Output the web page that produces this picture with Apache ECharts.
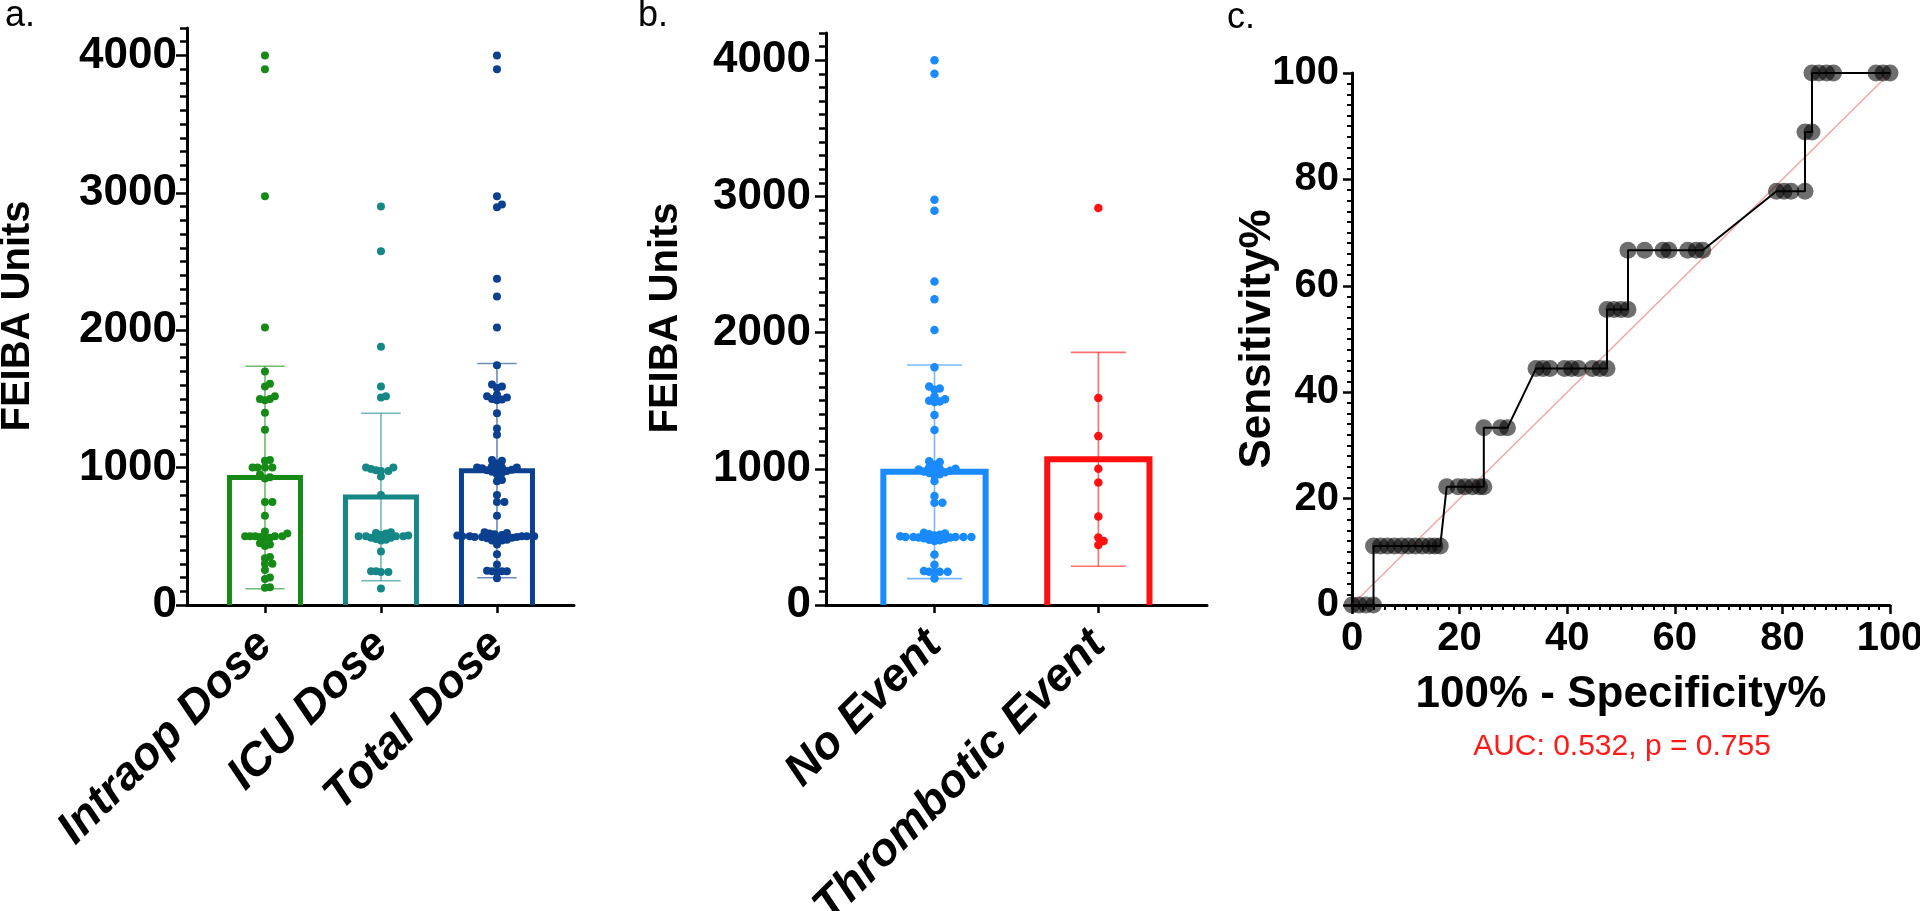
<!DOCTYPE html>
<html><head><meta charset="utf-8">
<script src="https://cdn.jsdelivr.net/npm/echarts@6/dist/echarts.min.js"></script>
<style>html,body{margin:0;padding:0;background:#fff}#c{width:1920px;height:911px}</style>
</head><body><div id="c"></div>
<script>
// ---------------- data ----------------
const doseCategories = ['Intraop Dose', 'ICU Dose', 'Total Dose'];
const eventCategories = ['No Event', 'Thrombotic Event'];

const intraopDose = [4000, 3900, 2975, 2020, 1700, 1610, 1590, 1520, 1500, 1500, 1490, 1400, 1275,
  1055, 1050, 1000, 1000, 1000, 1000, 950, 930, 920, 750, 750, 650, 535, 520, 500, 500, 500, 500, 500,
  495, 490, 485, 450, 440, 430, 350, 340, 300, 300, 255, 200, 190, 130, 125];
const icuDose = [2900, 2575, 1880, 1590, 1520, 1510, 1000, 1000, 990, 980, 975, 975, 935, 800,
  530, 525, 520, 510, 505, 500, 500, 500, 500, 490, 490, 480, 475, 470, 390, 245, 245, 240, 240, 120];
const totalDose = [4000, 3900, 2975, 2915, 2895, 2375, 2245, 2020, 1745, 1605, 1590, 1580, 1530,
  1520, 1510, 1500, 1495, 1490, 1395, 1285, 1240, 1055, 1050, 1030, 1010, 1000, 1000, 1000, 995, 990,
  985, 980, 975, 970, 960, 950, 910, 900, 800, 750, 750, 650, 530, 525, 520, 515, 510, 505, 500, 500,
  500, 500, 500, 495, 495, 495, 490, 485, 480, 475, 470, 470, 440, 370, 295, 250, 245, 245, 245, 240, 195];
const noEvent = [4000, 3900, 2975, 2895, 2375, 2245, 2020, 1745, 1605, 1590, 1580, 1530, 1510, 1500,
  1495, 1490, 1395, 1285, 1055, 1050, 1030, 1010, 1000, 1000, 995, 990, 985, 980, 975, 970, 960, 950,
  910, 800, 750, 750, 530, 525, 520, 515, 510, 505, 500, 500, 500, 500, 500, 495, 495, 490, 485, 480,
  475, 470, 370, 295, 250, 245, 245, 245, 240, 195];
const thromboticEvent = [2915, 1520, 1240, 1000, 900, 650, 495, 470, 440];

const doseMeans = [928, 786, 978];
const doseSDs = [810, 610, 780];
const eventMeans = [978, 1070];
const eventSDs = [784, 785];

const feibaTicks = [0, 1000, 2000, 3000, 4000];

// ROC curve: 100% - Specificity% (x) and Sensitivity% (y)
const rocSpecX = [0, 1.3, 2.6, 4.0,
  4.0, 5.3, 6.6, 7.9, 9.2, 10.5, 11.8, 13.1, 14.4, 15.4, 16.4,
  17.6, 19.7, 21.0, 22.4, 23.7, 24.5,
  24.5, 27.6, 28.9,
  34.2, 35.5, 36.8, 39.5, 40.8, 42.1, 44.7, 46.1, 47.4,
  47.4, 48.7, 50.0, 51.3,
  51.3, 54.4, 57.8, 58.9, 62.4, 64.0, 65.2,
  78.9, 80.3, 81.6, 84.2,
  84.2, 85.5,
  85.5, 86.8, 88.2, 89.5, 97.4, 98.7, 100];
const rocSensY = [0, 0, 0, 0,
  11.11, 11.11, 11.11, 11.11, 11.11, 11.11, 11.11, 11.11, 11.11, 11.11, 11.11,
  22.22, 22.22, 22.22, 22.22, 22.22, 22.22,
  33.33, 33.33, 33.33,
  44.44, 44.44, 44.44, 44.44, 44.44, 44.44, 44.44, 44.44, 44.44,
  55.56, 55.56, 55.56, 55.56,
  66.67, 66.67, 66.67, 66.67, 66.67, 66.67, 66.67,
  77.78, 77.78, 77.78, 77.78,
  88.89, 88.89,
  100, 100, 100, 100, 100, 100, 100];
const chanceLine = [0, 100];
const aucText = 'AUC: 0.532, p = 0.755';

// ---------------- styling ----------------
const FONT = '"Liberation Sans", Arial, sans-serif';
const doseColors = ['#168a16', '#168787', '#0b3f8f'];
const eventColors = ['#1a8aff', '#ff1010'];

const chart = echarts.init(document.getElementById('c'), null, {renderer: 'canvas', width: 1920, height: 911});

function yMain(gi, margin) {
  return {
    type: 'value', gridIndex: gi, position: 'left', min: 0, max: 4200, interval: 100,
    axisLine: {show: true, onZero: false, lineStyle: {color: '#000', width: 3}},
    axisTick: {show: true, length: 7, lineStyle: {color: '#000', width: 2.5}},
    axisLabel: {show: true, customValues: feibaTicks, margin: margin, color: '#000',
      fontFamily: FONT, fontWeight: 'bold', fontSize: 44, formatter: v => String(v)},
    splitLine: {show: false}
  };
}
function yMajor(gi) {
  return {
    type: 'value', gridIndex: gi, position: 'left', offset: 0, min: 0, max: 4200, interval: 1000,
    axisLine: {show: false, onZero: false},
    axisTick: {show: true, customValues: feibaTicks, length: 11, lineStyle: {color: '#000', width: 2.5}},
    axisLabel: {show: false}, splitLine: {show: false}
  };
}
function xCat(gi, min, max, cats) {
  const idx = cats.map((c, i) => i);
  return {
    type: 'value', gridIndex: gi, min: min, max: max,
    axisLine: {show: true, onZero: false, lineStyle: {color: '#000', width: 3}},
    axisTick: {show: true, customValues: idx, length: 8, lineStyle: {color: '#000', width: 2.5}},
    axisLabel: {show: true, customValues: idx, rotate: 45, margin: 33, color: '#000',
      fontFamily: FONT, fontWeight: 'bold', fontStyle: 'italic', fontSize: 46,
      formatter: v => cats[Math.round(v)]},
    splitLine: {show: false}
  };
}
function rocAxis(gi, isX) {
  return {
    type: 'value', gridIndex: gi, min: 0, max: 100, interval: 20,
    axisLine: {show: true, onZero: false, lineStyle: {color: '#000', width: 3}},
    axisTick: {show: true, length: 9, lineStyle: {color: '#000', width: 2.5}},
    minorTick: {show: true, splitNumber: 10, length: 5, lineStyle: {color: '#000', width: 2}},
    axisLabel: {show: true, margin: isX ? 14 : 13, color: '#000',
      fontFamily: FONT, fontWeight: 'bold', fontSize: 40},
    splitLine: {show: false}, minorSplitLine: {show: false}
  };
}

function barSeries(xi, yi, means, colors, halfW, lw) {
  return {
    type: 'custom', xAxisIndex: xi, yAxisIndex: yi, z: 2, clip: false,
    data: means.map((m, i) => [i, m]),
    renderItem: function (params, api) {
      const i = api.value(0), m = api.value(1);
      const a = api.coord([i - halfW, 0]), b = api.coord([i - halfW, m]);
      const c = api.coord([i + halfW, m]), d = api.coord([i + halfW, 0]);
      return {type: 'polyline', shape: {points: [a, b, c, d]},
        style: {fill: null, stroke: colors[params.dataIndex], lineWidth: lw, lineJoin: 'miter'}};
    }
  };
}
function errSeries(xi, yi, means, sds, colors, capW) {
  return {
    type: 'custom', xAxisIndex: xi, yAxisIndex: yi, z: 3, clip: false,
    data: means.map((m, i) => [i, m - sds[i], m + sds[i]]),
    renderItem: function (params, api) {
      const i = api.value(0), lo = api.value(1), hi = api.value(2);
      const top = api.coord([i, hi]), bot = api.coord([i, lo]);
      const tl = api.coord([i - capW, hi]), tr = api.coord([i + capW, hi]);
      const bl = api.coord([i - capW, lo]), br = api.coord([i + capW, lo]);
      const st = {stroke: colors[params.dataIndex], lineWidth: 1.6, opacity: 0.6};
      return {type: 'group', children: [
        {type: 'line', shape: {x1: top[0], y1: top[1], x2: bot[0], y2: bot[1]}, style: st},
        {type: 'line', shape: {x1: tl[0], y1: tl[1], x2: tr[0], y2: tr[1]}, style: st},
        {type: 'line', shape: {x1: bl[0], y1: bl[1], x2: br[0], y2: br[1]}, style: st}
      ]};
    }
  };
}

function txt(x, y, text, font, fill, rot) {
  return {type: 'text', x: x, y: y, rotation: rot || 0,
    style: {text: text, font: font, fill: fill, textAlign: 'center', align: 'center',
      textVerticalAlign: 'middle', verticalAlign: 'middle'}};
}
function lbl(x, y, text) {
  return {type: 'text', x: x, y: y,
    style: {text: text, font: '36px ' + FONT, fill: '#000', textAlign: 'left', align: 'left',
      textVerticalAlign: 'middle', verticalAlign: 'middle'}};
}
const graphicTexts = [
  lbl(5, 16, 'a.'), lbl(638, 16, 'b.'), lbl(1227, 18, 'c.'),
  txt(18, 316, 'FEIBA Units', 'bold 40px ' + FONT, '#000', Math.PI / 2),
  txt(666, 318, 'FEIBA Units', 'bold 40px ' + FONT, '#000', Math.PI / 2),
  txt(1258, 339, 'Sensitivity%', 'bold 44px ' + FONT, '#000', Math.PI / 2),
  txt(1621, 695, '100% - Specificity%', 'bold 44px ' + FONT, '#000'),
  txt(1622, 747, aucText, '30px ' + FONT, '#ff1a1a')
];

const baseOption = {
  animation: false,
  backgroundColor: '#fff',
  grid: [
    {left: 187, top: 28, width: 387, height: 577, outerBoundsMode: 'none', containLabel: false},
    {left: 826, top: 33, width: 381, height: 572, outerBoundsMode: 'none', containLabel: false},
    {left: 1352, top: 73, width: 538, height: 532, outerBoundsMode: 'none', containLabel: false}
  ],
  xAxis: [
    xCat(0, -0.672, 2.664, doseCategories),
    xCat(1, -0.662, 1.663, eventCategories),
    rocAxis(2, true)
  ],
  yAxis: [yMain(0, 10), yMajor(0), yMain(1, 15), yMajor(1), rocAxis(2, false)],
  graphic: graphicTexts,
  series: [
    barSeries(0, 0, doseMeans, doseColors, 0.306, 5),
    errSeries(0, 0, doseMeans, doseSDs, doseColors, 0.17),
    barSeries(1, 2, eventMeans, eventColors, 0.312, 6),
    errSeries(1, 2, eventMeans, eventSDs, eventColors, 0.168),
    {type: 'line', xAxisIndex: 2, yAxisIndex: 4, z: 1, clip: false, symbol: 'none',
      data: chanceLine.map(v => [v, v]), lineStyle: {color: '#f4a6a6', width: 1.5}, silent: true},
    {type: 'line', xAxisIndex: 2, yAxisIndex: 4, z: 4, clip: false, symbol: 'circle', symbolSize: 17,
      data: rocSpecX.map((x, i) => [x, rocSensY[i]]),
      lineStyle: {color: '#000', width: 2}, itemStyle: {color: 'rgba(0,0,0,0.57)', borderWidth: 0}}
  ]
};
chart.setOption(baseOption);

// beeswarm layout of dots computed with the chart's own scales
function swarm(gridIndex, xi, vals, D) {
  const placed = [], out = [];
  const sorted = vals.slice().sort((a, b) => a - b);
  const s = D * 0.31, thr = (D * 0.62) * (D * 0.62);
  for (const v of sorted) {
    const p = chart.convertToPixel({gridIndex: gridIndex}, [xi, v]);
    let px = p[0];
    for (let k = 0; k < 120; k++) {
      const off = k === 0 ? 0 : Math.ceil(k / 2) * (k % 2 ? 1 : -1) * s;
      px = p[0] + off;
      if (placed.every(q => (q[0] - px) * (q[0] - px) + (q[1] - p[1]) * (q[1] - p[1]) >= thr)) break;
    }
    placed.push([px, p[1]]);
    out.push(chart.convertFromPixel({gridIndex: gridIndex}, [px, p[1]]));
  }
  return out;
}
function dots(xi, yi, gi, idx, vals, color, size) {
  return {type: 'scatter', xAxisIndex: xi, yAxisIndex: yi, z: 5, clip: false, symbolSize: size,
    data: swarm(gi, idx, vals, size), itemStyle: {color: color, opacity: 1}};
}
const doseGroups = [intraopDose, icuDose, totalDose];
const eventGroups = [noEvent, thromboticEvent];
const dotSeries = [];
doseGroups.forEach((g, i) => dotSeries.push(dots(0, 0, 0, i, g, doseColors[i], 8)));
eventGroups.forEach((g, i) => dotSeries.push(dots(1, 2, 1, i, g, eventColors[i], 8.5)));
chart.setOption({series: baseOption.series.concat(dotSeries)});
</script></body></html>
